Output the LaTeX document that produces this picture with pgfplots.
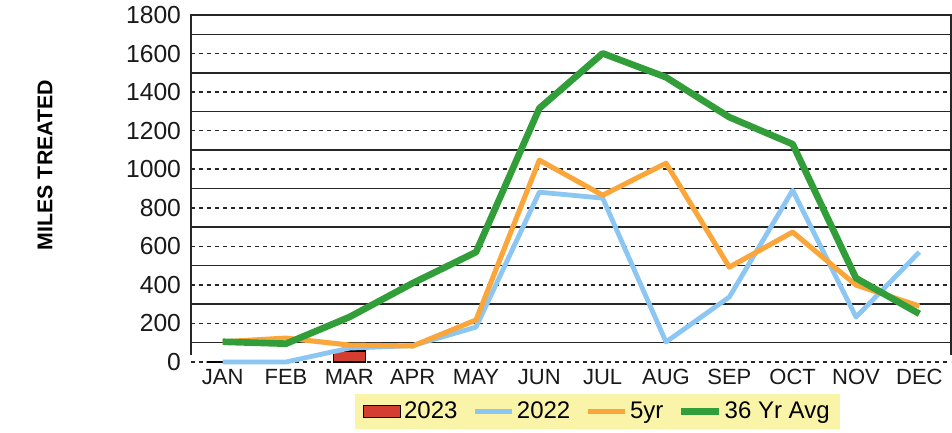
\documentclass[border=0pt]{standalone}
\usepackage{fontspec}
\setmainfont{Liberation Sans}
\usepackage{pgfplots}
\pgfplotsset{compat=1.18}

\definecolor{bar23}{RGB}{212,62,48}
\definecolor{line22}{RGB}{140,198,242}
\definecolor{five}{RGB}{250,166,58}
\definecolor{avg}{RGB}{50,158,58}
\definecolor{legbg}{RGB}{250,244,168}

\pgfplotsset{
  barleg/.style={legend image code/.code={\draw[##1] (0pt,-4.5pt) rectangle (28pt,4.5pt);}},
}

\begin{document}
\begin{tikzpicture}
\path[use as bounding box] (-143.25pt,-52.5pt) rectangle (570.75pt,271.5pt);
\begin{axis}[
  at={(0pt,0pt)}, anchor=south west,
  scale only axis,
  width=570pt, height=260.25pt,
  xmin=-0.5, xmax=11.5,
  ymin=0, ymax=1800,
  xtick={0,...,11},
  xticklabels={JAN,FEB,MAR,APR,MAY,JUN,JUL,AUG,SEP,OCT,NOV,DEC},
  ytick={0,200,...,1800},
  minor ytick={100,300,...,1700},
  ymajorgrids, yminorgrids,
  major grid style={black!85, line width=1.1pt, dash pattern=on 3.2pt off 2.8pt},
  minor grid style={black!85, line width=1.1pt},
  major tick length=0pt, minor tick length=0pt,
  axis line style={draw=none},
  /pgf/number format/assume math mode=true,
  /pgf/number format/1000 sep={},
  yticklabel style={font=\fontsize{18.5}{20}\selectfont, text=black!90, xshift=-4pt},
  xticklabel style={font=\fontsize{16.5}{18}\selectfont, text=black!90, yshift=-2pt},
  legend columns=4,
  legend style={at={(0.535,-0.1426)}, anchor=center, fill=legbg, draw=none,
                font=\fontsize{18}{20}\selectfont, inner xsep=6pt, inner ysep=4pt,
                /tikz/every even column/.append style={column sep=9pt}},
  legend cell align=left,
  legend image code/.code={\draw[#1] (0pt,0pt) -- (28pt,0pt);},
  clip=false,
]
\addplot[ybar, bar width=24pt, fill=bar23, draw=black, line width=0.9pt, barleg]
  coordinates {(0,0) (2,57)};
\addlegendentry{2023}

\addplot[line22, line width=3.6pt, line join=round]
  coordinates {(0,0) (1,0) (2,72) (3,85) (4,181) (5,881) (6,850) (7,104) (8,337) (9,891) (10,233) (11,570)};
\addlegendentry{2022}

\addplot[five, line width=3.8pt, line join=round]
  coordinates {(0,105) (1,124) (2,88) (3,83) (4,218) (5,1047) (6,865) (7,1031) (8,492) (9,674) (10,399) (11,290)};
\addlegendentry{5yr}

\addplot[avg, line width=5pt, line join=round]
  coordinates {(0,105) (1,95) (2,233) (3,409) (4,570) (5,1316) (6,1601) (7,1477) (8,1270) (9,1130) (10,435) (11,250)};
\addlegendentry{36 Yr Avg}

\draw[black!85, line width=1.1pt] (rel axis cs:0,0.02) -- (rel axis cs:0,1) -- (rel axis cs:1,1) -- (rel axis cs:1,0.02);
\end{axis}
\node[rotate=90, font=\fontsize{16}{18}\selectfont\bfseries] at (-109.5pt,147.75pt) {MILES TREATED};
\end{tikzpicture}
\end{document}
